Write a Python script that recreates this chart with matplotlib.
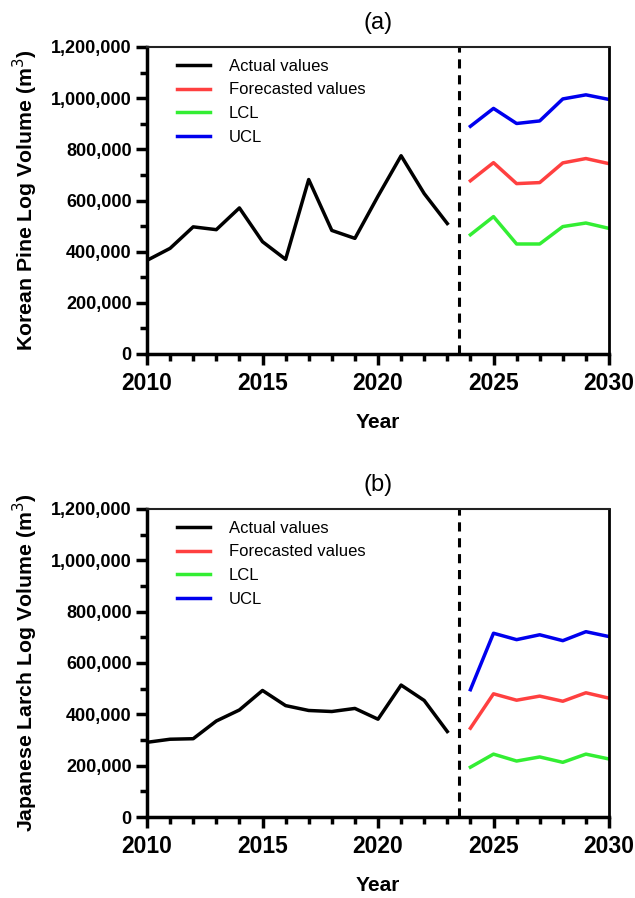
import matplotlib
matplotlib.use("Agg")
import matplotlib.pyplot as plt
from matplotlib.ticker import FuncFormatter, MultipleLocator

plt.rcParams['font.family'] = ['Liberation Sans', 'DejaVu Sans']

years_actual = list(range(2010, 2024))
years_fc = list(range(2024, 2031))

pine_actual = [366000, 413000, 497000, 486000, 571000, 439000, 370000, 682000,
               483000, 452000, 617000, 775000, 627000, 510000]
pine_fc = [677000, 748000, 666000, 670000, 747000, 764000, 744000]
pine_lcl = [466000, 537000, 430000, 430000, 498000, 512000, 491000]
pine_ucl = [890000, 960000, 901000, 911000, 997000, 1013000, 995000]

larch_actual = [291000, 303000, 305000, 374000, 417000, 493000, 434000, 415000,
                411000, 423000, 381000, 514000, 454000, 333000]
larch_fc = [346000, 480000, 455000, 471000, 451000, 484000, 463000]
larch_lcl = [194000, 245000, 218000, 234000, 213000, 245000, 226000]
larch_ucl = [496000, 716000, 691000, 710000, 687000, 722000, 703000]

panels = [
    ("(a)", "Korean Pine Log Volume (m$^3$)", pine_actual, pine_fc, pine_lcl, pine_ucl),
    ("(b)", "Japanese Larch Log Volume (m$^3$)", larch_actual, larch_fc, larch_lcl, larch_ucl),
]

W, H = 635, 898
fig = plt.figure(figsize=(W / 100, H / 100), dpi=100)
boxes = [(147, 47, 609, 354), (147, 509, 609, 817)]

for (title, ylabel, act, fc, lcl, ucl), (l, t, r, b) in zip(panels, boxes):
    ax = fig.add_axes([l / W, 1 - b / H, (r - l) / W, (b - t) / H])
    ax.plot(years_actual, act, color='black', lw=2.5, label='Actual values')
    ax.plot(years_fc, fc, color='#ff4040', lw=2.5, label='Forecasted values')
    ax.plot(years_fc, lcl, color='#33ee33', lw=2.5, label='LCL')
    ax.plot(years_fc, ucl, color='#0000ee', lw=2.5, label='UCL')
    ax.axvline(2023.5, color='black', lw=2.2, ls=(0, (3, 2.2)))
    ax.set_xlim(2010, 2030)
    ax.set_ylim(0, 1200000)
    ax.xaxis.set_major_locator(MultipleLocator(5))
    ax.xaxis.set_minor_locator(MultipleLocator(1))
    ax.yaxis.set_major_locator(MultipleLocator(200000))
    ax.yaxis.set_minor_locator(MultipleLocator(100000))
    ax.yaxis.set_major_formatter(FuncFormatter(lambda v, p: f"{int(v):,}"))
    for s in ['left', 'bottom']:
        ax.spines[s].set_linewidth(2.5)
    ax.spines['right'].set_linewidth(2.0)
    ax.spines['top'].set_linewidth(1.5)
    ax.spines['top'].set_color('#222222')
    ax.tick_params(axis='both', which='major', direction='out', length=8, width=2.5)
    ax.tick_params(axis='both', which='minor', direction='out', length=5, width=2.5)
    ax.tick_params(axis='x', labelsize=16.5, pad=5)
    ax.tick_params(axis='y', labelsize=13, pad=3)
    for lab in ax.get_xticklabels() + ax.get_yticklabels():
        lab.set_fontweight('bold')
    ax.set_xlabel("Year", fontsize=15, fontweight='bold', labelpad=13)
    ax.set_ylabel(ylabel, fontsize=15.3, fontweight='bold', labelpad=8)
    ax.set_title(title, fontsize=17, pad=13)
    leg = ax.legend(loc='upper left', bbox_to_anchor=(0.04, 1.0), frameon=False,
                    fontsize=12, handlelength=2.0, handletextpad=1.1,
                    labelspacing=0.52, borderaxespad=0.3)
    for line in leg.get_lines():
        line.set_linewidth(2.5)

fig.savefig("out.png", dpi=100)
